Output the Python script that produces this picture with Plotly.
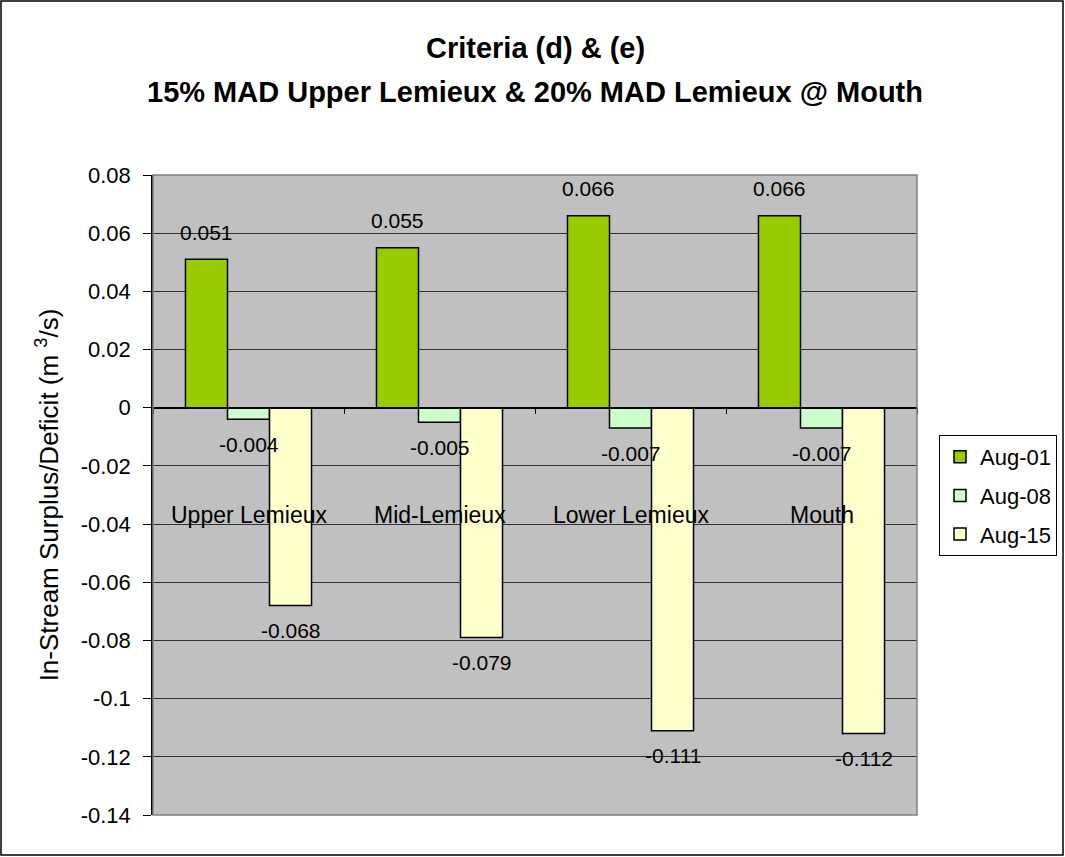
import plotly.graph_objects as go

categories = ["Upper Lemieux", "Mid-Lemieux", "Lower Lemieux", "Mouth"]
series_names = ["Aug-01", "Aug-08", "Aug-15"]
aug01 = [0.051, 0.055, 0.066, 0.066]
aug08 = [-0.004, -0.005, -0.007, -0.007]
aug15 = [-0.068, -0.079, -0.111, -0.112]
series_values = [aug01, aug08, aug15]
colors = ["#99CC00", "#CCFFCC", "#FFFFCC"]
ytick_vals = [-0.14, -0.12, -0.1, -0.08, -0.06, -0.04, -0.02, 0, 0.02, 0.04, 0.06, 0.08]
ytick_text = ["-0.14", "-0.12", "-0.1", "-0.08", "-0.06", "-0.04", "-0.02", "0", "0.02", "0.04", "0.06", "0.08"]

FONT = "Liberation Sans, Arial, sans-serif"
W, H = 1065, 857
ML, MR, MT, MB = 153, 148, 175, 42
PW, PH = W - ML - MR, H - MT - MB
YMIN, YMAX = -0.14, 0.08

fig = go.Figure()
for name, vals, col in zip(series_names, series_values, colors):
    fig.add_trace(go.Bar(
        x=categories, y=vals, name=name,
        marker=dict(color=col, line=dict(color="black", width=1.5)),
        legendgroup=name,
    ))

# data labels
cat_w = PW / len(categories)
bargap = 0.34
bar_w = cat_w * (1 - bargap) / 3
for si, vals in enumerate(series_values):
    for c, v in zip(categories, vals):
        fig.add_annotation(
            x=c, y=v, xref="x", yref="y",
            text=f"{v:.3f}", showarrow=False,
            xshift=(si - 1) * bar_w,
            yshift=27 if v >= 0 else -25,
            font=dict(family=FONT, size=21, color="black"),
        )

# category labels near the zero line
for c in categories:
    fig.add_annotation(
        x=c, y=-0.037, xref="x", yref="y", text=c, showarrow=False,
        font=dict(family=FONT, size=23, color="black"),
    )

# title lines
fig.add_annotation(x=0.5, y=(H - MB - 48) / PH, xref="paper", yref="paper",
                   text="<b>Criteria (d) &amp; (e)</b>", showarrow=False,
                   xanchor="center", yanchor="middle",
                   font=dict(family=FONT, size=29, color="black"))
fig.add_annotation(x=0.5, y=(H - MB - 92) / PH, xref="paper", yref="paper",
                   text="<b>15% MAD Upper Lemieux &amp; 20% MAD Lemieux @ Mouth</b>",
                   showarrow=False, xanchor="center", yanchor="middle",
                   font=dict(family=FONT, size=29, color="black"))

# plot-area border (gray) and outer chart border (black)
fig.add_shape(type="rect", xref="paper", yref="paper", x0=0, x1=1, y0=0, y1=1,
              line=dict(color="#808080", width=1.5), layer="above")
fig.add_shape(type="rect", xref="paper", yref="paper",
              x0=(1 - ML) / PW, x1=(W - 2 - ML) / PW,
              y0=(H - MB - (H - 2)) / PH, y1=(H - MB - 1) / PH,
              line=dict(color="black", width=1.5))

fig.update_layout(
    width=W, height=H,
    margin=dict(l=ML, r=MR, t=MT, b=MB, autoexpand=False),
    paper_bgcolor="white", plot_bgcolor="#C0C0C0",
    barmode="group", bargap=bargap, bargroupgap=0,
    font=dict(family=FONT, size=20, color="black"),
    showlegend=True,
    legend=dict(
        x=(939 - ML) / PW, y=(H - MB - 435) / PH, xanchor="left", yanchor="top",
        bgcolor="white", bordercolor="black", borderwidth=1,
        font=dict(family=FONT, size=22, color="black"),
        tracegroupgap=7, itemwidth=30,
    ),
    xaxis=dict(
        type="category", showgrid=False, zeroline=False,
        showticklabels=False, ticks="outside", ticklen=6, tickcolor="black",
        tickson="boundaries", showline=True, linecolor="black", linewidth=1.5,
        anchor="free", position=(0 - YMIN) / (YMAX - YMIN),
    ),
    yaxis=dict(
        range=[YMIN, YMAX], tickmode="array", tickvals=ytick_vals, ticktext=ytick_text,
        showgrid=True, gridcolor="#333333", gridwidth=1,
        zeroline=False, showline=True, linecolor="black", linewidth=1.5,
        ticks="outside", ticklen=8, tickcolor="black", ticklabelstandoff=8,
        tickfont=dict(family=FONT, size=22, color="black"),
        title=dict(text="In-Stream Surplus/Deficit (m <sup>3</sup>/s)", standoff=15,
                   font=dict(family=FONT, size=26, color="black")),
    ),
)

fig.write_html("out.html", config={"displayModeBar": False},
               post_script="document.body.style.margin='0';")
